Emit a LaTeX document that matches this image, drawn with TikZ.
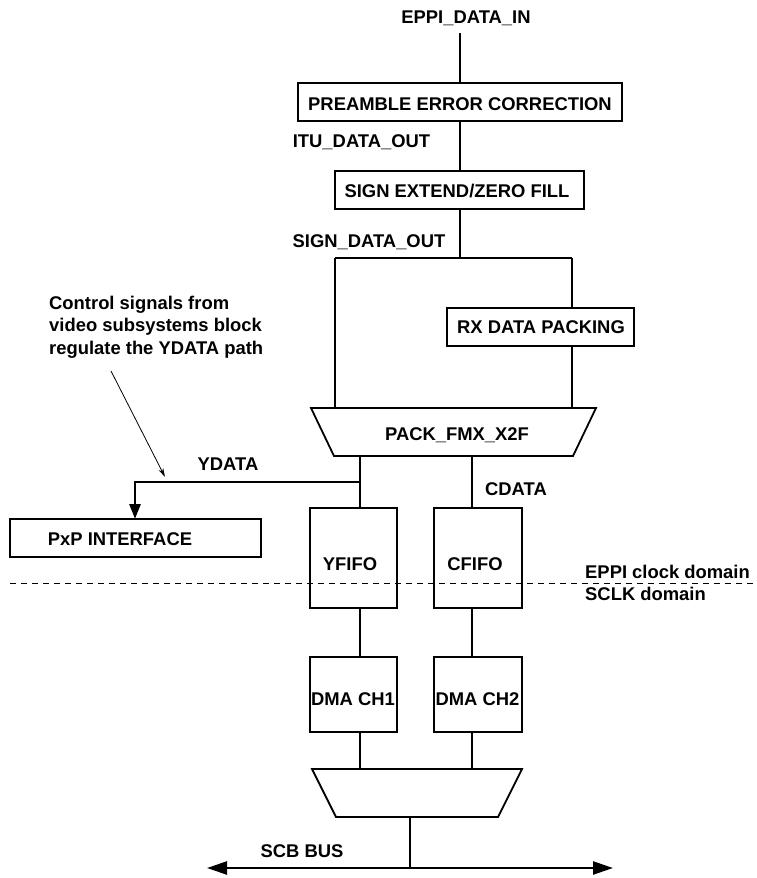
\documentclass[tikz,border=0pt]{standalone}
\usepackage{fontspec}
\setmainfont{Liberation Sans}
\usetikzlibrary{arrows.meta}
\begin{document}
\begin{tikzpicture}[x=1pt,y=-1pt,
  every node/.style={font=\fontsize{18.4}{22.5}\selectfont\bfseries, inner sep=0pt, anchor=base},
  blk/.style={draw, line width=1.8pt},
  wire/.style={line width=1.8pt},
  thickwire/.style={line width=2.8pt}]
\useasboundingbox (0,0) rectangle (757,878);
% top input
\node (in) at (466,23.5) {EPPI\_DATA\_IN};
\coordinate (inbot) at (460,33);
% preamble
\draw[blk] (298,83) rectangle (622,121);
\node (pec) at (460,110) {PREAMBLE ERROR CORRECTION};
\coordinate (pectop) at (460,83);
\coordinate (pecbot) at (460,121);
\node (itu) at (361.5,147) {ITU\_DATA\_OUT};
% sign extend
\draw[blk] (335,171) rectangle (584,209);
\node (sez) at (457,197) {SIGN EXTEND/ZERO FILL};
\coordinate (seztop) at (460,171);
\coordinate (sezbot) at (460,209);
\node (sdo) at (369,247) {SIGN\_DATA\_OUT};
% split
\coordinate (split) at (460,258);
\coordinate (splitL) at (335,258);
\coordinate (splitR) at (572,258);
% rx data packing
\draw[blk] (447,308) rectangle (634,346);
\node (rx) at (541,333) {RX DATA PACKING};
\coordinate (rxtop) at (572,308);
\coordinate (rxbot) at (572,346);
% pack_fmx trapezoid
\draw[blk] (311,408) -- (596,408) -- (573,456) -- (334,456) -- cycle;
\node (pack) at (457,440) {PACK\_FMX\_X2F};
\coordinate (packL) at (335,408);
\coordinate (packR) at (572,408);
\coordinate (packY) at (360,456);
\coordinate (packC) at (472,456);
% connectors top part
\draw[wire] (inbot) -- (pectop);
\draw[wire] (pecbot) -- (seztop);
\draw[wire] (sezbot) -- (split);
\draw[wire] (splitL) -- (splitR);
\draw[wire] (splitL) -- (packL);
\draw[wire] (splitR) -- (rxtop);
\draw[wire] (rxbot) -- (packR);
% FIFOs
\draw[blk] (310,508) rectangle (397,608);
\node (yfifo) at (350,570) {YFIFO};
\draw[blk] (434,508) rectangle (522,608);
\node (cfifo) at (475,570) {CFIFO};
\coordinate (yftop) at (360,508);
\coordinate (cftop) at (472,508);
\coordinate (yfbot) at (360,608);
\coordinate (cfbot) at (472,608);
\node (cdata) at (516,495) {CDATA};
\draw[wire] (packY) -- (yftop);
\draw[wire] (packC) -- (cftop);
% YDATA to PxP
\coordinate (ytap) at (360,482);
\coordinate (ycorner) at (135,482);
\draw[blk] (10,519) rectangle (261,557);
\node (pxp) at (120,545) {PxP INTERFACE};
\coordinate (pxptop) at (135,519);
\draw[thickwire, -{Triangle[length=15pt,width=11pt]}] (ytap) -- (ycorner) -- (pxptop);
\node (ydata) at (228,470) {YDATA};
% control note
\node[align=left, anchor=base west] (note) at (49,354)
  {Control signals from\\video subsystems block\\regulate the YDATA path};
\coordinate (ctlstart) at (111,371);
\coordinate (ctlend) at (165,477);
\draw[line width=0.8pt, -{Stealth[length=9pt,width=5pt]}] (ctlstart) -- (ctlend);
% clock domain
\coordinate (dashL) at (10,583);
\coordinate (dashR) at (757,583);
\draw[line width=1pt, dash pattern=on 6pt off 5pt] (dashL) -- (dashR);
\node[anchor=base west] (eppi) at (585,578) {EPPI clock domain};
\node[anchor=base west] (sclk) at (585,600) {SCLK domain};
% DMA
\draw[blk] (310,657) rectangle (397,732);
\node (dma1) at (353,705) {DMA CH1};
\draw[blk] (434,657) rectangle (522,732);
\node (dma2) at (477.5,705) {DMA CH2};
\coordinate (d1top) at (360,657);
\coordinate (d2top) at (472,657);
\coordinate (d1bot) at (360,732);
\coordinate (d2bot) at (472,732);
\draw[wire] (yfbot) -- (d1top);
\draw[wire] (cfbot) -- (d2top);
% bottom mux
\draw[blk] (312,769) -- (522,769) -- (498,817) -- (336,817) -- cycle;
\coordinate (m1) at (360,769);
\coordinate (m2) at (472,769);
\coordinate (mbot) at (410,817);
\draw[wire] (d1bot) -- (m1);
\draw[wire] (d2bot) -- (m2);
% SCB bus
\coordinate (busmid) at (410,868);
\coordinate (busL) at (207,868);
\coordinate (busR) at (613,868);
\draw[wire] (mbot) -- (busmid);
\draw[line width=2.4pt, {Triangle[length=20pt,width=13pt]}-{Triangle[length=20pt,width=13pt]}] (busL) -- (busR);
\node (scb) at (302,857) {SCB BUS};
\end{tikzpicture}
\end{document}
